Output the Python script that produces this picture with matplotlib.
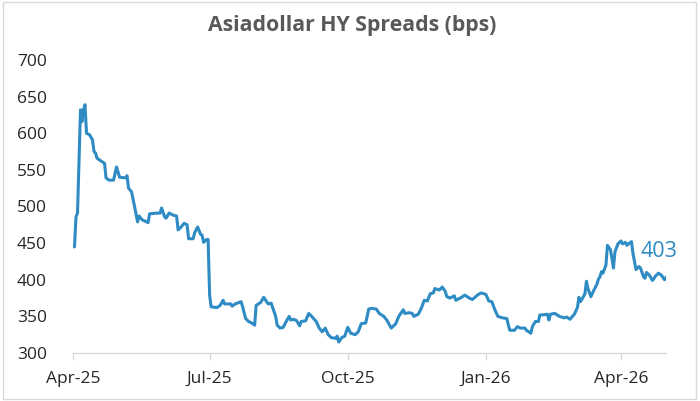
import matplotlib
matplotlib.use("Agg")
import matplotlib.pyplot as plt
from matplotlib.patches import Rectangle
import pandas as pd

dates = [
    "2025-04-01", "2025-04-02", "2025-04-03", "2025-04-04", "2025-04-06", "2025-04-07", "2025-04-08",
    "2025-04-09", "2025-04-10", "2025-04-12", "2025-04-14", "2025-04-15", "2025-04-16", "2025-04-17",
    "2025-04-19", "2025-04-22", "2025-04-23", "2025-04-25", "2025-04-28", "2025-04-30",
    "2025-05-02", "2025-05-06", "2025-05-07", "2025-05-08", "2025-05-10", "2025-05-12", "2025-05-14",
    "2025-05-15", "2025-05-17", "2025-05-21", "2025-05-22", "2025-05-27", "2025-05-29", "2025-05-30",
    "2025-06-01", "2025-06-02", "2025-06-04", "2025-06-07", "2025-06-09", "2025-06-10", "2025-06-12",
    "2025-06-14", "2025-06-16", "2025-06-17", "2025-06-20", "2025-06-21", "2025-06-23", "2025-06-25",
    "2025-06-26", "2025-06-27", "2025-06-29", "2025-06-30",
    "2025-07-01", "2025-07-02", "2025-07-06", "2025-07-08", "2025-07-10", "2025-07-11", "2025-07-15",
    "2025-07-16", "2025-07-18", "2025-07-22", "2025-07-23", "2025-07-25", "2025-07-27", "2025-07-29",
    "2025-07-31",
    "2025-08-01", "2025-08-04", "2025-08-06", "2025-08-08", "2025-08-09", "2025-08-11", "2025-08-14",
    "2025-08-15", "2025-08-17", "2025-08-19", "2025-08-21", "2025-08-23", "2025-08-24", "2025-08-26",
    "2025-08-28", "2025-08-30", "2025-08-31",
    "2025-09-03", "2025-09-05", "2025-09-07", "2025-09-10", "2025-09-12", "2025-09-14", "2025-09-16",
    "2025-09-18", "2025-09-20", "2025-09-23", "2025-09-24", "2025-09-25", "2025-09-27", "2025-09-29",
    "2025-10-01", "2025-10-03", "2025-10-06", "2025-10-08", "2025-10-10", "2025-10-13", "2025-10-15",
    "2025-10-17", "2025-10-20", "2025-10-22", "2025-10-25", "2025-10-27", "2025-10-30",
    "2025-11-02", "2025-11-04", "2025-11-07", "2025-11-08", "2025-11-11", "2025-11-13", "2025-11-14",
    "2025-11-17", "2025-11-19", "2025-11-21", "2025-11-23", "2025-11-25", "2025-11-27", "2025-11-28",
    "2025-12-01", "2025-12-03", "2025-12-05", "2025-12-06", "2025-12-08", "2025-12-11", "2025-12-12",
    "2025-12-15", "2025-12-18", "2025-12-21", "2025-12-23", "2025-12-27", "2025-12-29",
    "2026-01-01", "2026-01-03", "2026-01-05", "2026-01-07", "2026-01-09", "2026-01-12", "2026-01-15",
    "2026-01-16", "2026-01-17", "2026-01-20", "2026-01-22", "2026-01-24", "2026-01-27", "2026-01-28",
    "2026-01-31",
    "2026-02-01", "2026-02-03", "2026-02-05", "2026-02-06", "2026-02-08", "2026-02-11", "2026-02-12",
    "2026-02-13", "2026-02-16", "2026-02-19", "2026-02-22", "2026-02-24", "2026-02-26",
    "2026-03-01", "2026-03-03", "2026-03-04", "2026-03-05", "2026-03-07", "2026-03-08", "2026-03-09",
    "2026-03-10", "2026-03-12", "2026-03-14", "2026-03-16", "2026-03-17", "2026-03-18", "2026-03-19",
    "2026-03-20", "2026-03-22", "2026-03-23", "2026-03-25", "2026-03-26", "2026-03-27", "2026-03-28",
    "2026-03-30",
    "2026-04-01", "2026-04-02", "2026-04-04", "2026-04-05", "2026-04-06", "2026-04-08", "2026-04-09",
    "2026-04-10", "2026-04-11", "2026-04-13", "2026-04-14", "2026-04-16", "2026-04-17", "2026-04-18",
    "2026-04-20", "2026-04-22", "2026-04-24", "2026-04-26", "2026-04-28", "2026-04-30", "2026-05-01",
]

spreads = [
    445, 445, 486, 491, 632, 616, 632, 639, 600, 598, 591, 575, 573, 566, 563, 559, 539, 536, 536, 554,
    540, 539, 542, 525, 520, 500, 479, 487, 482, 478, 490, 491, 491, 498,
    486, 484, 491, 488, 487, 468, 472, 477, 475, 456, 456, 464, 472, 462, 461, 451, 455, 455,
    379, 363, 362, 365, 372, 367, 367, 364, 367, 370, 363, 347, 343, 341, 338,
    365, 369, 376, 370, 367, 368, 350, 338, 334, 335, 343, 350, 345, 346, 344, 337, 343,
    344, 354, 350, 343, 334, 329, 334, 325, 321, 320, 323, 315, 321, 323,
    335, 327, 325, 329, 340, 341, 360, 361, 360, 354, 350, 345, 334,
    340, 350, 359, 354, 355, 354, 350, 353, 361, 372, 371, 381, 382, 388,
    386, 390, 384, 377, 375, 378, 372, 375, 379, 375, 373, 380, 382,
    380, 371, 370, 359, 350, 348, 347, 338, 331, 331, 336, 334, 334, 331, 327,
    336, 343, 343, 352, 352, 353, 345, 353, 354, 350, 348, 349, 346,
    353, 362, 376, 370, 377, 381, 398, 388, 377, 386, 394, 401, 404, 411, 409, 420, 447, 441, 429,
    416, 438, 449,
    453, 449, 451, 447, 449, 452, 436, 425, 414, 418, 416, 404, 402, 410, 406, 399, 405, 409, 406,
    400, 403,
]

last_label = "403"
title = "Asiadollar HY Spreads (bps)"
yticks = [300, 350, 400, 450, 500, 550, 600, 650, 700]
xtick_dates = ["2025-04-01", "2025-07-01", "2025-10-01", "2026-01-01", "2026-04-01"]
xtick_labels = ["Apr-25", "Jul-25", "Oct-25", "Jan-26", "Apr-26"]

line_color = "#2E8BC4"

x = pd.to_datetime(dates)

fig = plt.figure(figsize=(7.0, 4.01), dpi=100)
ax = fig.add_axes([73 / 700, 1 - 353 / 401, (666 - 73) / 700, (353 - 60) / 401])

ax.plot(x, spreads, color=line_color, lw=2.2, solid_joinstyle="round")

ax.set_xlim(pd.Timestamp("2025-04-01"), pd.Timestamp("2026-05-01"))
ax.set_ylim(300, 700)
ax.set_yticks(yticks)
ax.set_yticklabels([str(v) for v in yticks])
ax.set_xticks(pd.to_datetime(xtick_dates))
ax.set_xticklabels(xtick_labels)

for s in ["top", "right", "left"]:
    ax.spines[s].set_visible(False)
ax.spines["bottom"].set_color("#D9D9D9")
ax.spines["bottom"].set_linewidth(1.0)

# pad in points: label left edge at ~17 px from figure edge
ax.tick_params(axis="y", length=0, pad=(73 - 17) * 0.72, labelsize=12.5, labelcolor="#262626")
for lab in ax.get_yticklabels():
    lab.set_horizontalalignment("left")
    lab.set_fontfamily("Open Sans")
ax.tick_params(axis="x", length=5, width=1.0, color="#D9D9D9", pad=8,
               labelsize=12.5, labelcolor="#262626")
for lab in ax.get_xticklabels():
    lab.set_fontfamily("Open Sans")

ax.text(x[-1] + pd.Timedelta(days=-17), 438, last_label, color=line_color,
        fontsize=15.5, fontfamily="Open Sans", ha="left", va="center")

fig.text(352 / 700, 1 - 25 / 401, title, ha="center", va="center",
         fontsize=15.3, fontweight="bold", color="#595959", fontfamily="Open Sans")

fig.patches.append(Rectangle((3 / 700, 2 / 401), 693 / 700, 397 / 401, transform=fig.transFigure,
                             fill=False, edgecolor="#D9D9D9", lw=1.0))

fig.savefig("out.png", dpi=100)
